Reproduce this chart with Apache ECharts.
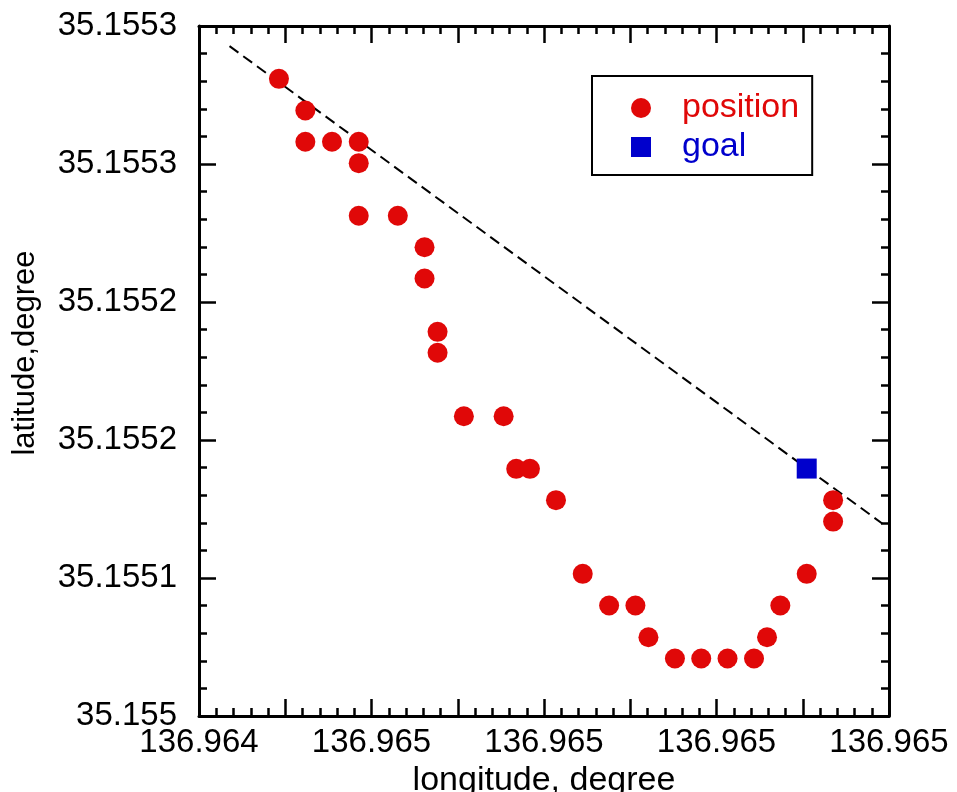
<!DOCTYPE html>
<html>
<head>
<meta charset="utf-8">
<script src="https://cdn.jsdelivr.net/npm/echarts@6/dist/echarts.min.js"></script>
<style>
  html, body { margin: 0; padding: 0; background: #fff; }
  #chart { width: 957px; height: 792px; }
</style>
</head>
<body>
<div id="chart"></div>
<script>
// axes are in tick units: x 0..8 (label every 2), y 0..5
const xTickLabels = ['136.964', '136.965', '136.965', '136.965', '136.965'];
const yTickLabels = ['35.155', '35.1551', '35.1552', '35.1552', '35.1553', '35.1553'];

// position samples (x, y)
const posX = [0.927, 1.233, 1.233, 1.542, 1.852, 1.852, 1.852, 2.305, 2.615, 2.615,
              2.766, 2.766, 3.071, 3.532, 3.678, 3.837, 4.139, 4.449, 4.755, 5.060,
              5.211, 5.518, 5.823, 6.128, 6.435, 6.586, 6.740, 7.046, 7.352, 7.352];
const posY = [4.617, 4.388, 4.161, 4.161, 4.161, 4.006, 3.625, 3.625, 3.397, 3.170,
              2.784, 2.632, 2.172, 2.172, 1.791, 1.791, 1.564, 1.030, 0.801, 0.801,
              0.571, 0.417, 0.417, 0.417, 0.417, 0.571, 0.801, 1.030, 1.564, 1.409];

const goalX = [7.046];
const goalY = [1.793];

// dashed reference line end points
const lineX = [0.354, 7.921];
const lineY = [4.854, 1.395];

const RED = '#e00808';
const BLUE = '#0000cc';
const FONT = '"Liberation Sans", Arial, sans-serif';

const zip = (xs, ys) => xs.map((x, i) => [x, ys[i]]);

const chart = echarts.init(document.getElementById('chart'));

const baseX = {
  type: 'value', min: 0, max: 8, interval: 1,
  axisLine: { onZero: false, lineStyle: { color: '#000', width: 3 } },
  axisTick: { inside: true, length: 17, lineStyle: { color: '#000', width: 2.5 } },
  minorTick: { show: true, splitNumber: 5, length: 8, lineStyle: { color: '#000', width: 2.5 } },
  splitLine: { show: false }
};
const baseY = {
  type: 'value', min: 0, max: 5, interval: 1,
  axisLine: { onZero: false, lineStyle: { color: '#000', width: 3 } },
  axisTick: { inside: true, length: 17, lineStyle: { color: '#000', width: 2.5 } },
  minorTick: { show: true, splitNumber: 5, length: 8, lineStyle: { color: '#000', width: 2.5 } },
  splitLine: { show: false }
};

chart.setOption({
  animation: false,
  backgroundColor: '#fff',
  grid: { left: 199, top: 26, width: 690, height: 690, outerBoundsMode: 'none', containLabel: false },
  legend: {
    orient: 'vertical',
    left: 592, top: 76,
    padding: [15, 13, 11, 39],
    itemWidth: 20, itemHeight: 20, itemGap: 5,
    borderColor: '#000', borderWidth: 2, backgroundColor: '#fff',
    textStyle: { fontFamily: FONT, fontSize: 34, padding: [0, 0, 0, 26] },
    data: [
      { name: 'position', icon: 'circle', textStyle: { color: RED } },
      { name: 'goal', icon: 'rect', textStyle: { color: BLUE } }
    ]
  },
  xAxis: [
    Object.assign({}, baseX, {
      position: 'bottom',
      name: 'longitude, degree', nameLocation: 'middle', nameGap: 40,
      nameTextStyle: { fontFamily: FONT, fontSize: 34, color: '#000' },
      axisLabel: {
        margin: 10, fontFamily: FONT, fontSize: 33, color: '#000',
        formatter: v => (v % 2 === 0 ? xTickLabels[v / 2] : '')
      }
    }),
    Object.assign({}, baseX, { position: 'top', axisLabel: { show: false } })
  ],
  yAxis: [
    Object.assign({}, baseY, {
      position: 'left',
      name: 'latitude,degree', nameLocation: 'middle', nameGap: 158, nameRotate: 90,
      nameTextStyle: { fontFamily: FONT, fontSize: 31, color: '#000', padding: [0, 0, 0, 36] },
      axisLabel: {
        margin: 22, fontFamily: FONT, fontSize: 33, color: '#000',
        formatter: v => yTickLabels[v]
      }
    }),
    Object.assign({}, baseY, { position: 'right', axisLabel: { show: false } })
  ],
  series: [
    {
      name: 'trend', type: 'line', data: zip(lineX, lineY),
      xAxisIndex: 0, yAxisIndex: 0,
      symbol: 'none', silent: true, z: 1,
      lineStyle: { color: '#000', width: 2, type: [11, 6] }
    },
    {
      name: 'position', type: 'scatter', data: zip(posX, posY),
      symbol: 'circle', symbolSize: 20, z: 3,
      itemStyle: { color: RED, opacity: 1 }
    },
    {
      name: 'goal', type: 'scatter', data: zip(goalX, goalY),
      symbol: 'rect', symbolSize: 20, z: 4,
      itemStyle: { color: BLUE, opacity: 1 }
    }
  ]
});
</script>
</body>
</html>
